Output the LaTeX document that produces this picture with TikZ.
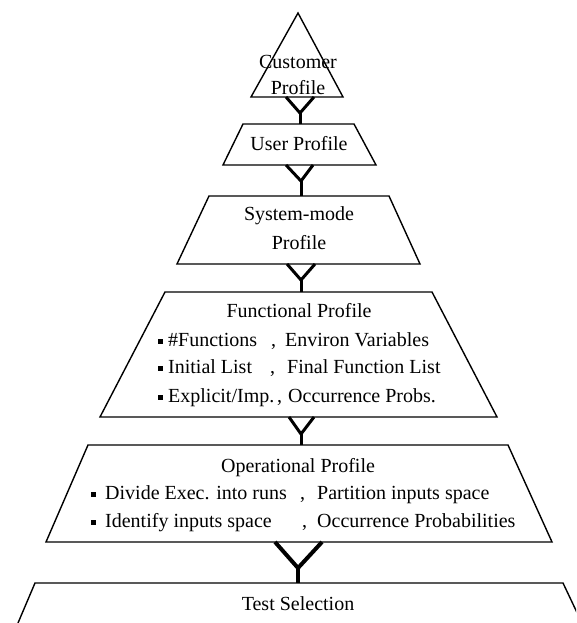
\documentclass[tikz,border=0pt]{standalone}
\usepackage{fontspec}
\setmainfont{Liberation Serif}
\newcommand\bsq{\rule[2.5pt]{5pt}{5pt}}
\begin{document}
\begin{tikzpicture}[x=1pt,y=-1pt,
  boxline/.style={draw=black,line width=1.4pt,line join=miter},
  ylink/.style={draw=black,line width=3pt,line join=miter},
  ylinkbig/.style={draw=black,line width=4pt,line join=miter},
  lbl/.style={inner sep=0pt,anchor=base,font=\fontsize{20}{24}\selectfont},
  lblw/.style={inner sep=0pt,anchor=base west,font=\fontsize{20}{24}\selectfont}]
\useasboundingbox (0,0) rectangle (576,623);
\fill[white] (0,0) rectangle (576,623);
% customer profile (triangle)
\draw[boxline] (298,13) -- (343,97) -- (251,97) -- cycle;
\coordinate (cpB) at (300,97);
\node[lbl] (cp1) at (298,69) {Customer};
\node[lbl] (cp2) at (298,95) {Profile};
% user profile
\draw[boxline] (243,124) -- (354,124) -- (376,165) -- (223,165) -- cycle;
\coordinate (upT) at (300,124);
\coordinate (upB) at (300,165);
\node[lbl] (up) at (299,150) {User Profile};
% system-mode profile
\draw[boxline] (209,196) -- (389,196) -- (420,264) -- (177,264) -- cycle;
\coordinate (smT) at (301,196);
\coordinate (smB) at (301,264);
\node[lbl] (sm1) at (299,220) {System-mode};
\node[lbl] (sm2) at (299,249) {Profile};
% functional profile
\draw[boxline] (165,292) -- (432,292) -- (497,417) -- (100,417) -- cycle;
\coordinate (fpT) at (301,292);
\coordinate (fpB) at (301,417);
\node[lbl] (fp) at (299,317) {Functional Profile};
\node[lblw] (fa1) at (158,346) {\bsq\hspace{5pt}\#Functions};
\node[lblw] (fc1) at (271,346) {,};
\node[lblw] (fb1) at (285,346) {Environ Variables};
\node[lblw] (fa2) at (158,373) {\bsq\hspace{5pt}Initial List};
\node[lblw] (fc2) at (270,373) {,};
\node[lblw] (fb2) at (287,373) {Final Function List};
\node[lblw] (fa3) at (158,402) {\bsq\hspace{5pt}Explicit/Imp.};
\node[lblw] (fc3) at (277,402) {,};
\node[lblw] (fb3) at (288,402) {Occurrence Probs.};
% operational profile
\draw[boxline] (88,445) -- (508,445) -- (552,542) -- (46,542) -- cycle;
\coordinate (opT) at (301,445);
\coordinate (opB) at (298,542);
\node[lbl] (op) at (298,472) {Operational Profile};
\node[lblw] (oa1) at (91,499) {\bsq\hspace{9pt}Divide Exec. into runs};
\node[lblw] (oc1) at (300,499) {,};
\node[lblw] (ob1) at (317,499) {Partition inputs space};
\node[lblw] (oa2) at (91,527) {\bsq\hspace{9pt}Identify inputs space};
\node[lblw] (oc2) at (302,527) {,};
\node[lblw] (ob2) at (317,527) {Occurrence Probabilities};
% test selection
\begin{scope}
\clip (0,0) rectangle (576,623);
\draw[boxline] (18,623) -- (35,583) -- (563,583) -- (590,640);
\end{scope}
\coordinate (tsT) at (298,583);
\node[lbl] (ts) at (298,610) {Test Selection};
% Y connectors
\coordinate (j1) at (300,113);
\draw[ylink] ([xshift=-14pt]cpB) -- (j1) -- ([xshift=14pt]cpB);
\draw[ylink] (j1) -- (upT);
\coordinate (j2) at (301,181);
\draw[ylink] ([xshift=-14pt]upB) -- (j2) -- ([xshift=13pt]upB);
\draw[ylink] (j2) -- (smT);
\coordinate (j3) at (301,280);
\draw[ylink] ([xshift=-14pt]smB) -- (j3) -- ([xshift=14pt]smB);
\draw[ylink] (j3) -- (fpT);
\coordinate (j4) at (301,434);
\draw[ylink] ([xshift=-12pt]fpB) -- (j4) -- ([xshift=13pt]fpB);
\draw[ylink] (j4) -- (opT);
\coordinate (j5) at (298,568);
\draw[ylinkbig] ([xshift=-23pt]opB) -- (j5) -- ([xshift=24pt]opB);
\draw[ylinkbig] (j5) -- (tsT);
\end{tikzpicture}
\end{document}
